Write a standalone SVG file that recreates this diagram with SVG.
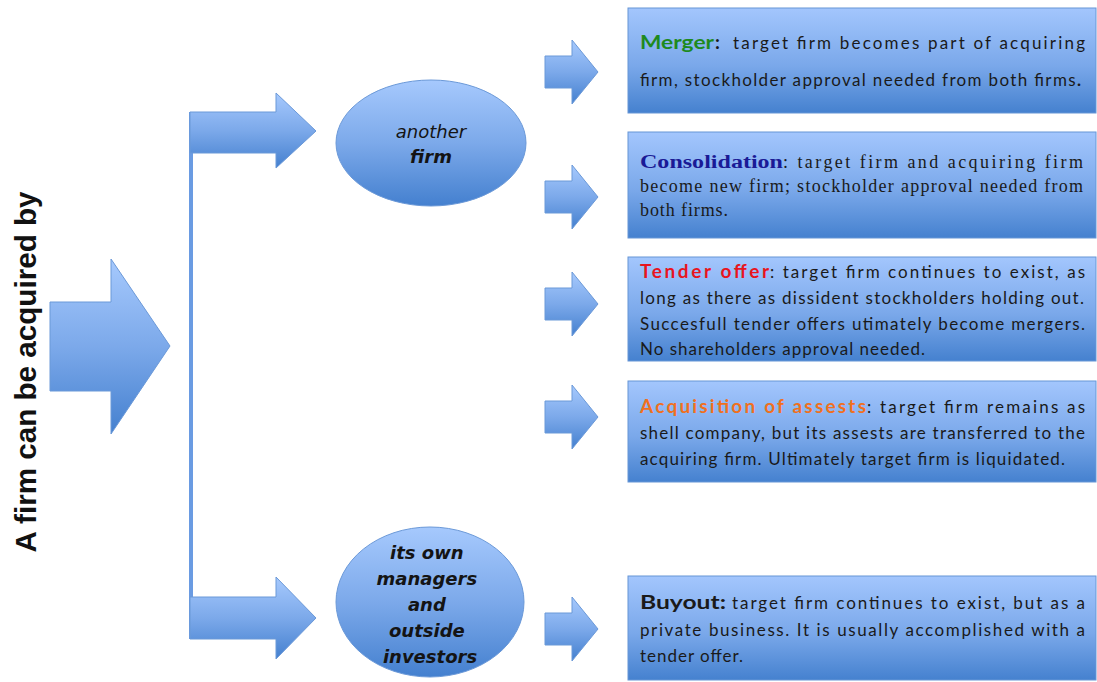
<svg xmlns="http://www.w3.org/2000/svg" width="1097" height="682" viewBox="0 0 1097 682">
  <defs>
    <linearGradient id="blueFill" x1="0" y1="0" x2="0" y2="1">
      <stop offset="0" stop-color="#a6c9fd"/>
      <stop offset="0.5" stop-color="#7ca9ea"/>
      <stop offset="1" stop-color="#4480cf"/>
    </linearGradient>
    <linearGradient id="boxFill" x1="0" y1="0" x2="0" y2="1">
      <stop offset="0" stop-color="#a3c6fd"/>
      <stop offset="0.55" stop-color="#7aa8ea"/>
      <stop offset="1" stop-color="#4581cf"/>
    </linearGradient>
    <!-- small block arrow pointing right, centred on y=0 -->
    <path id="smallArrow" d="M545,-16 H572 V-32 L598,0 L572,32 V16 H545 Z"/>
    <style>
      .shape { fill: url(#blueFill); stroke: #6b99d8; stroke-width: 1; }
      .bar { fill: #6a9be2; }
      .box { fill: url(#boxFill); stroke: #6796d6; stroke-width: 1; }
      .oval { font-family: "DejaVu Sans", Verdana, sans-serif; font-size: 18px; fill: #141414; text-anchor: middle; font-style: italic; }
      .sans { font-family: Lato, "Liberation Sans", sans-serif; font-size: 17px; fill: #1a1a1a; }
      .serif { font-family: "Liberation Serif", "Times New Roman", serif; font-size: 18px; fill: #1a1a1a; }
      .head { font-weight: bold; font-size: 19px; }
      .green { fill: #1e8a1e; }
      .blue { fill: #1a1a96; }
      .red { fill: #e8141e; }
      .orange { fill: #f0701e; }
      .title { font-family: "Liberation Sans", Arial, sans-serif; font-weight: bold; font-size: 29px; fill: #111; text-anchor: middle; }
    </style>
  </defs>

  <!-- vertical title -->
  <g id="title">
    <text class="title" transform="translate(36,372) rotate(-90)" textLength="361" lengthAdjust="spacingAndGlyphs">A firm can be acquired by</text>
  </g>

  <!-- connectors: main arrow, bracket and all block arrows -->
  <g id="connectors">
    <polygon class="shape" points="50,302 111,302 111,259 170,346 111,434 111,391 50,391"/>
    <rect class="bar" x="189" y="112" width="4" height="527"/>
    <polygon class="shape" points="190,112 276,112 276,93 316,131 276,168 276,153 190,153"/>
    <polygon class="shape" points="190,597 276,597 276,577 316,618 276,659 276,639 190,639"/>
    <use href="#smallArrow" class="shape" transform="translate(0,72)"/>
    <use href="#smallArrow" class="shape" transform="translate(0,197)"/>
    <use href="#smallArrow" class="shape" transform="translate(0,304)"/>
    <use href="#smallArrow" class="shape" transform="translate(0,417)"/>
    <use href="#smallArrow" class="shape" transform="translate(0,629)"/>
  </g>

  <!-- acquirer nodes -->
  <g id="another-firm">
    <ellipse class="shape" cx="431" cy="143" rx="95" ry="63"/>
    <text class="oval" x="431" y="138">another</text>
    <text class="oval" x="431" y="163" font-weight="bold">firm</text>
  </g>
  <g id="managers-investors">
    <ellipse class="shape" cx="430" cy="602" rx="94" ry="75"/>
    <text class="oval" font-weight="bold">
      <tspan x="430" y="559">its own</tspan>
      <tspan x="430" y="585">managers</tspan>
      <tspan x="430" y="611">and</tspan>
      <tspan x="430" y="637">outside</tspan>
      <tspan x="430" y="663">investors</tspan>
    </text>
  </g>

  <!-- outcome boxes -->
  <g id="merger">
    <rect class="box" x="628" y="8" width="468" height="105"/>
    <text class="sans head green" x="640" y="49" textLength="74" lengthAdjust="spacingAndGlyphs">Merger</text>
    <text class="sans head" x="715" y="49">:</text>
    <text class="sans" x="733" y="49" textLength="352" lengthAdjust="spacing">target firm becomes part of acquiring</text>
    <text class="sans" x="640" y="86" textLength="441" lengthAdjust="spacing">firm, stockholder  approval needed from both firms<tspan font-weight="bold">.</tspan></text>
  </g>

  <g id="consolidation">
    <rect class="box" x="628" y="132" width="468" height="106"/>
    <text class="serif blue" x="640" y="168" font-weight="bold" font-size="19" textLength="143" lengthAdjust="spacingAndGlyphs">Consolidation</text>
    <text class="serif" x="783" y="168" textLength="300" lengthAdjust="spacing">: target firm and acquiring firm</text>
    <text class="serif" x="640" y="192" textLength="443" lengthAdjust="spacing">become new firm; stockholder approval needed from</text>
    <text class="serif" x="640" y="216" textLength="88" lengthAdjust="spacing">both firms.</text>
  </g>

  <g id="tender-offer">
    <rect class="box" x="628" y="257" width="468" height="104"/>
    <text class="sans head red" x="640" y="278" textLength="129" lengthAdjust="spacing">Tender offer</text>
    <text class="sans" x="770" y="278" textLength="315" lengthAdjust="spacing">: target firm  continues to exist, as</text>
    <text class="sans" x="640" y="304" textLength="444" lengthAdjust="spacing">long as there as dissident stockholders holding out.</text>
    <text class="sans" x="640" y="330" textLength="445" lengthAdjust="spacing">Succesfull tender offers utimately become mergers.</text>
    <text class="sans" x="640" y="355" textLength="285" lengthAdjust="spacing">No shareholders approval needed.</text>
  </g>

  <g id="acquisition-of-assets">
    <rect class="box" x="628" y="381" width="468" height="101"/>
    <text class="sans head orange" x="640" y="413" textLength="226" lengthAdjust="spacing">Acquisition of assests</text>
    <text class="sans" x="867" y="413" textLength="218" lengthAdjust="spacing">: target firm remains as</text>
    <text class="sans" x="640" y="439" textLength="445" lengthAdjust="spacing">shell company, but its assests are transferred to the</text>
    <text class="sans" x="640" y="465" textLength="425" lengthAdjust="spacing">acquiring firm. Ultimately target firm is liquidated.</text>
  </g>

  <g id="buyout">
    <rect class="box" x="628" y="576" width="468" height="104"/>
    <text class="sans head" x="640" y="609" textLength="86" lengthAdjust="spacingAndGlyphs">Buyout:</text>
    <text class="sans" x="732" y="609" textLength="353" lengthAdjust="spacing">target firm continues to exist, but as a</text>
    <text class="sans" x="640" y="636" textLength="445" lengthAdjust="spacing">private business. It is usually accomplished with a</text>
    <text class="sans" x="640" y="662" textLength="103" lengthAdjust="spacing">tender offer.</text>
  </g>
</svg>
